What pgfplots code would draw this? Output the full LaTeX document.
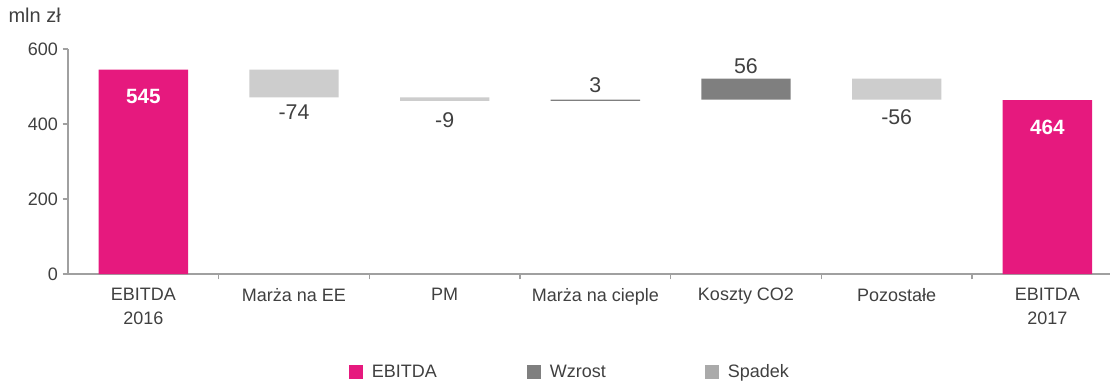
\documentclass[border=0pt]{standalone}
\usepackage{pgfplots}
\pgfplotsset{compat=1.18}
\usepackage{fontspec}
\setmainfont{Liberation Sans}
\definecolor{ebitda}{RGB}{230,25,126}
\definecolor{wzrost}{RGB}{127,127,127}
\definecolor{spadek}{RGB}{205,205,205}
\definecolor{spadekleg}{RGB}{170,170,170}
\definecolor{axisgray}{RGB}{160,160,160}
\definecolor{labelgray}{RGB}{64,64,64}
\begin{document}
\begin{tikzpicture}
\useasboundingbox (-51pt,-79.5pt) rectangle (781.5pt,205.5pt);
\begin{axis}[
  scale only axis, width=791pt, height=168.75pt,
  ybar stacked, bar width=67pt,
  xmin=-0.5, xmax=6.5, ymin=0, ymax=600,
  axis x line=bottom, axis y line=left,
  axis line style={draw=axisgray, line width=0.8pt, -},
  ytick={0,200,400,600},
  xtick={0,...,6},
  xticklabels={EBITDA\\2016, Marża na EE, PM, Marża na cieple, Koszty CO2, Pozostałe, EBITDA\\2017},
  xticklabel style={align=center, font=\fontsize{13.5}{18}\selectfont, text=labelgray, yshift=-3pt},
  yticklabel style={font=\fontsize{13.5}{16}\selectfont, text=labelgray},
  /pgf/number format/assume math mode=true,
  major x tick style={draw=none},
  minor xtick={0.5,1.5,...,5.5},
  tick align=outside, major tick length=4pt, minor tick length=4pt,
  tick style={draw=axisgray, line width=0.8pt},
  every axis plot/.append style={draw=none},
  legend style={at={(0.262,-0.436)}, anchor=west, draw=none, fill=none,
    legend columns=3, font=\fontsize{13.5}{16}\selectfont, text=labelgray},
  clip=false,
]
% invisible base
\addplot[fill=none, draw=none, forget plot] coordinates {(0,0) (1,471) (2,462) (3,462) (4,465) (5,465) (6,0)};
\addplot[fill=ebitda, forget plot] coordinates {(0,545) (1,0) (2,0) (3,0) (4,0) (5,0) (6,464)};
\addplot[fill=wzrost, forget plot] coordinates {(0,0) (1,0) (2,0) (3,3) (4,56) (5,0) (6,0)};
\addplot[fill=spadek, forget plot] coordinates {(0,0) (1,74) (2,9) (3,0) (4,0) (5,56) (6,0)};
\addlegendimage{legend image code/.code={\fill[ebitda] (0pt,-5.25pt) rectangle (10.5pt,5.25pt);}}
\addlegendimage{legend image code/.code={\fill[wzrost] (0pt,-5.25pt) rectangle (10.5pt,5.25pt);}}
\addlegendimage{legend image code/.code={\fill[spadekleg] (0pt,-5.25pt) rectangle (10.5pt,5.25pt);}}
\legend{\makebox[119pt][l]{\hspace{5pt}EBITDA}, \makebox[119pt][l]{\hspace{5pt}Wzrost}, \makebox[60pt][l]{\hspace{5pt}Spadek}}
% label anchors
\coordinate (v0) at (axis cs:0,473);
\coordinate (v1) at (axis cs:1,432);
\coordinate (v2) at (axis cs:2,411);
\coordinate (v3) at (axis cs:3,504);
\coordinate (v4) at (axis cs:4,555);
\coordinate (v5) at (axis cs:5,419);
\coordinate (v6) at (axis cs:6,392);
\coordinate (unit) at ([xshift=-25pt,yshift=25pt]rel axis cs:0,1);
\end{axis}
\node[text=white, font=\bfseries\fontsize{15.5}{18}\selectfont] at (v0) {545};
\node[text=labelgray, font=\fontsize{16}{18}\selectfont] at (v1) {-74};
\node[text=labelgray, font=\fontsize{16}{18}\selectfont] at (v2) {-9};
\node[text=labelgray, font=\fontsize{16}{18}\selectfont] at (v3) {3};
\node[text=labelgray, font=\fontsize{16}{18}\selectfont] at (v4) {56};
\node[text=labelgray, font=\fontsize{16}{18}\selectfont] at (v5) {-56};
\node[text=white, font=\bfseries\fontsize{15.5}{18}\selectfont] at (v6) {464};
\node[text=labelgray, font=\fontsize{15}{16}\selectfont] at (unit) {mln zł};
\end{tikzpicture}
\end{document}
